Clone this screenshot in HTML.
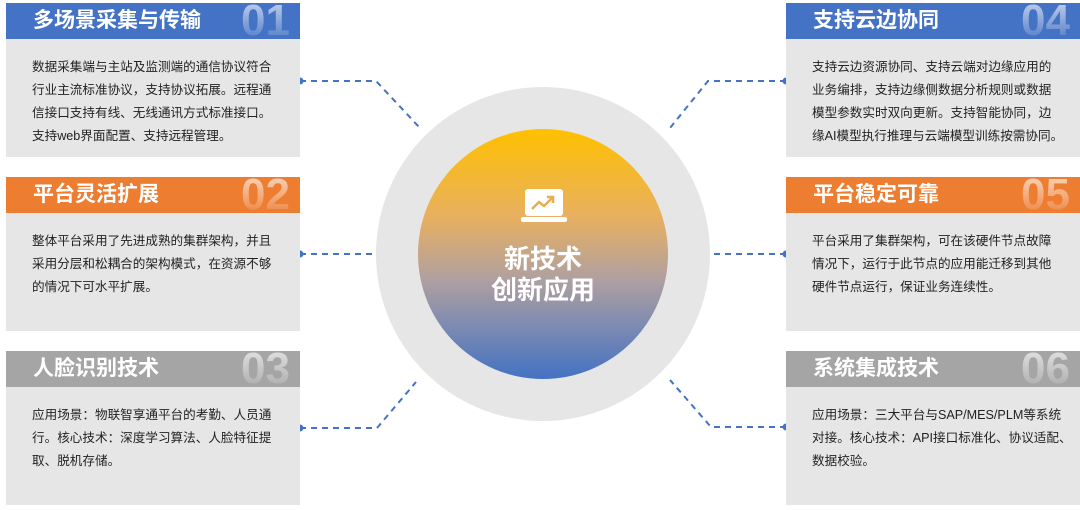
<!DOCTYPE html>
<html><head><meta charset="utf-8"><style>
body{margin:0;width:1080px;height:510px;background:#fff;position:relative;overflow:hidden;font-family:"Liberation Sans","Noto Sans CJK SC",sans-serif}
.card{position:absolute;width:294px}
.hd{height:36px;position:relative;color:#fff;font-weight:bold;font-size:21px;line-height:36px;padding-left:27px;box-sizing:border-box}
.num{position:absolute;right:10px;top:-4px;font-size:44px;font-weight:bold;line-height:44px;background:linear-gradient(rgba(255,255,255,0.85) 10%,rgba(255,255,255,0.05));-webkit-background-clip:text;color:transparent;opacity:.75}
.bd{background:#e6e6e6;padding:17px 0 0 26px;font-size:12.6px;line-height:23px;color:#222;box-sizing:border-box;white-space:nowrap;overflow:hidden}
.blue{background:#4472c4}.org{background:#ed7d31}.gray{background:#a5a5a5}
</style></head><body>
<svg width="1080" height="510" style="position:absolute;left:0;top:0">
<circle cx="543" cy="254" r="167" fill="#e6e6e6"/>
<defs><linearGradient id="g" x1="0" y1="0" x2="0" y2="1"><stop offset="0" stop-color="#ffc000"/><stop offset="0.35" stop-color="#e8b060"/><stop offset="0.6" stop-color="#b0a0a0"/><stop offset="1" stop-color="#4472c4"/></linearGradient></defs>
<circle cx="543" cy="254" r="125" fill="url(#g)"/>
<g stroke="#4472c4" stroke-width="2" stroke-dasharray="6,5" fill="none">
<polyline points="300,81 376,81 420,128"/>
<line x1="300" y1="254" x2="376" y2="254"/>
<polyline points="300,428 377,428 416,382"/>
<polyline points="786,81 708,81 670,128"/>
<line x1="786" y1="254" x2="710" y2="254"/>
<polyline points="786,427 711,427 670,380"/>
</g>
<g fill="#4472c4"><circle cx="300" cy="81" r="3.5"/><circle cx="300" cy="254" r="3.5"/><circle cx="300" cy="428" r="3.5"/><circle cx="786" cy="81" r="3.5"/><circle cx="786" cy="254" r="3.5"/><circle cx="786" cy="427" r="3.5"/></g>
<rect x="525" y="189" width="38" height="27" rx="3" fill="#fff"/>
<rect x="521" y="217" width="46" height="5" rx="2" fill="#fff"/>
<polyline points="532,209 539,202 544,206 553,197" stroke="#e8ae50" stroke-width="2.5" fill="none"/>
<polyline points="547,197 553,197 553,203" stroke="#e8ae50" stroke-width="2.5" fill="none"/>
<text x="543" y="268" text-anchor="middle" fill="#fff" font-size="26" font-weight="bold" font-family="Liberation Sans,Noto Sans CJK SC,sans-serif">新技术</text>
<text x="543" y="299" text-anchor="middle" fill="#fff" font-size="26" font-weight="bold" font-family="Liberation Sans,Noto Sans CJK SC,sans-serif">创新应用</text>
</svg>
<div class="card" style="left:6px;top:3px"><div class="hd blue">多场景采集与传输<span class="num">01</span></div><div class="bd" style="height:118px">数据采集端与主站及监测端的通信协议符合<br>行业主流标准协议，支持协议拓展。远程通<br>信接口支持有线、无线通讯方式标准接口。<br>支持web界面配置、支持远程管理。</div></div>
<div class="card" style="left:6px;top:177px"><div class="hd org">平台灵活扩展<span class="num">02</span></div><div class="bd" style="height:118px">整体平台采用了先进成熟的集群架构，并且<br>采用分层和松耦合的架构模式，在资源不够<br>的情况下可水平扩展。</div></div>
<div class="card" style="left:6px;top:351px"><div class="hd gray">人脸识别技术<span class="num">03</span></div><div class="bd" style="height:118px">应用场景：物联智享通平台的考勤、人员通<br>行。核心技术：深度学习算法、人脸特征提<br>取、脱机存储。</div></div>
<div class="card" style="left:786px;top:3px"><div class="hd blue">支持云边协同<span class="num">04</span></div><div class="bd" style="height:118px">支持云边资源协同、支持云端对边缘应用的<br>业务编排，支持边缘侧数据分析规则或数据<br>模型参数实时双向更新。支持智能协同，边<br>缘AI模型执行推理与云端模型训练按需协同。</div></div>
<div class="card" style="left:786px;top:177px"><div class="hd org">平台稳定可靠<span class="num">05</span></div><div class="bd" style="height:118px">平台采用了集群架构，可在该硬件节点故障<br>情况下，运行于此节点的应用能迁移到其他<br>硬件节点运行，保证业务连续性。</div></div>
<div class="card" style="left:786px;top:351px"><div class="hd gray">系统集成技术<span class="num">06</span></div><div class="bd" style="height:118px">应用场景：三大平台与SAP/MES/PLM等系统<br>对接。核心技术：API接口标准化、协议适配、<br>数据校验。</div></div>
</body></html>
